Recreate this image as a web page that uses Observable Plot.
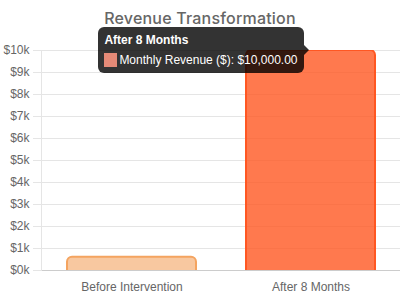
<!DOCTYPE html>
<html>
<head>
<meta charset="utf-8">
<script src="https://cdn.jsdelivr.net/npm/d3@7"></script>
<script src="https://cdn.jsdelivr.net/npm/@observablehq/plot@0.6"></script>
<style>
  body { margin: 0; background: #fff; }
  #wrap { position: relative; width: 400px; height: 300px; overflow: hidden; }
  #title { position: absolute; left: 0; top: 3px; width: 400px; height: 30px; text-align: center;
           font: 500 16px Inter, "Open Sans", sans-serif; color: #666; line-height: 30px; letter-spacing: 0.2px; }
  #chart { position: absolute; left: 0; top: 30px; }
  .tip { position: absolute; background: rgba(0,0,0,0.8); border-radius: 6px; padding: 6px 6px 6px 6px;
         color: #fff; font: 12px "Liberation Sans", Arial, sans-serif; transform: translateY(-50%); white-space: nowrap; }
  .tip:after { content: ""; position: absolute; left: 100%; top: 50%; margin-top: -5px;
               border: 5px solid transparent; border-left-color: rgba(0,0,0,0.8); border-right-width: 0; }
  .tip .t { font-weight: bold; line-height: 14px; margin-bottom: 6px; }
  .tip .b { display: flex; align-items: center; line-height: 14px; }
  .tip .sw { width: 13px; height: 14px; margin-right: 2px; }
</style>
</head>
<body>
<div id="wrap">
  <div id="title">Revenue Transformation</div>
  <div id="chart"></div>
</div>
<script>
const categories = ["Before Intervention", "After 8 Months"];
const revenue = [600, 10000];
const seriesLabel = "Monthly Revenue ($)";
const yTicks = [0, 1000, 2000, 3000, 4000, 5000, 6000, 7000, 8000, 9000, 10000];
const barFills = ["rgba(244,164,96,0.6)", "rgba(255,87,34,0.8)"];
const barStrokes = ["#f4a460", "#ff5722"];
const tipCategory = "After 8 Months";
const tipSwatch = "#e58a77";

const data = categories.map((c, i) => ({category: c, value: revenue[i], fill: barFills[i], stroke: barStrokes[i]}));

const chart = Plot.plot({
  width: 400,
  height: 270,
  marginTop: 20,
  marginBottom: 30,
  marginLeft: 41,
  marginRight: 0,
  style: {fontFamily: '"Liberation Sans", Arial, sans-serif', fontSize: "12px", color: "#666", background: "transparent", overflow: "visible"},
  x: {domain: categories, paddingInner: 0.28, paddingOuter: 0.14, label: null},
  y: {domain: [0, 10000], label: null},
  marks: [
    Plot.gridY(yTicks, {stroke: "#e5e5e5", strokeOpacity: 1}),
    Plot.axisY(yTicks, {tickSize: 8, tickPadding: 4, tickFormat: d => `$${d / 1000}k`, stroke: "#e5e5e5", strokeOpacity: 1, fill: "#666", label: null}),
    Plot.axisX({tickSize: 0, tickPadding: 12, fill: "#666", label: null}),
    Plot.barY(data, {x: "category", y1: d => -d.value, y2: "value", fill: "fill", stroke: "stroke", strokeWidth: 2, rx: 5, clip: true}),
    Plot.ruleY([0], {stroke: "#ccc"}),
    Plot.frame({anchor: "left", stroke: "#e5e5e5"})
  ]
});
document.getElementById("chart").appendChild(chart);

// tooltip anchored to the bar top via the chart's scales
const xs = chart.scale("x"), ys = chart.scale("y");
const d = data.find(e => e.category === tipCategory);
const xc = xs.apply(d.category) + xs.bandwidth / 2;
const yTop = ys.apply(d.value) + 30;
const tip = document.createElement("div");
tip.className = "tip";
tip.innerHTML = `<div class="t">${d.category}</div><div class="b"><span class="sw" style="background:${tipSwatch}"></span>${seriesLabel}: $${d3.format(",.2f")(d.value)}</div>`;
tip.style.right = (400 - (xc - 2 - 5)) + "px";
tip.style.top = yTop + "px";
document.getElementById("wrap").appendChild(tip);
</script>
</body>
</html>
